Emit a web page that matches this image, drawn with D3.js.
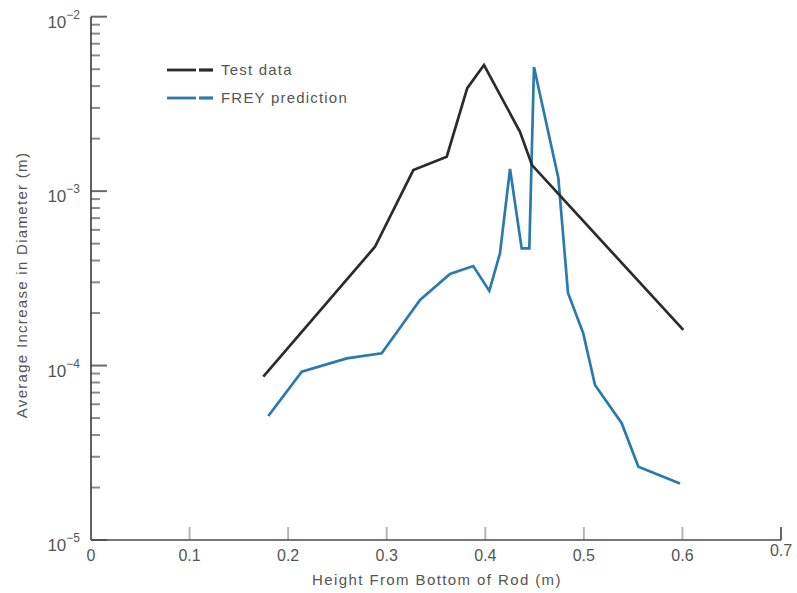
<!DOCTYPE html>
<html>
<head>
<meta charset="utf-8">
<script src="https://cdn.jsdelivr.net/npm/d3@7/dist/d3.min.js"></script>
<style>
  html, body { margin: 0; padding: 0; background: #fff; }
  svg { display: block; font-family: "Liberation Sans", Arial, sans-serif; }
</style>
</head>
<body>
<svg id="chart" width="797" height="593"></svg>
<script>
// Measured growth in rod diameter vs. height, and the FREY model prediction
const testHeight = [0.1748, 0.2881, 0.327, 0.3609, 0.3817, 0.3987, 0.4352, 0.4474, 0.6009];
const testValue  = [8.63e-5, 4.80e-4, 1.32e-3, 1.576e-3, 3.89e-3, 5.28e-3, 2.19e-3, 1.41e-3, 1.60e-4];

const freyHeight = [0.1799, 0.2138, 0.2594, 0.2949, 0.3338, 0.3642, 0.3878, 0.4041, 0.4149, 0.4251,
                    0.4369, 0.4447, 0.4494, 0.4741, 0.4839, 0.4994, 0.5113, 0.5384, 0.5553, 0.5975];
const freyValue  = [5.14e-5, 9.23e-5, 1.10e-4, 1.175e-4, 2.38e-4, 3.35e-4, 3.72e-4, 2.68e-4, 4.40e-4, 1.34e-3,
                    4.70e-4, 4.70e-4, 5.15e-3, 1.19e-3, 2.61e-4, 1.53e-4, 7.74e-5, 4.67e-5, 2.63e-5, 2.11e-5];

const xTicks = [0, 0.1, 0.2, 0.3, 0.4, 0.5, 0.6, 0.7];
const xTickLabels = ["0", "0.1", "0.2", "0.3", "0.4", "0.5", "0.6", "0.7"];
const yDecades = [1e-5, 1e-4, 1e-3, 1e-2];
const yExponents = ["−5", "−4", "−3", "−2"];

const seriesNames = ["Test data", "FREY prediction"];
const seriesColors = ["#2b2b2b", "#2a7aad"];

const svg = d3.select("#chart");
const textColor = "#555";

const x = d3.scaleLinear().domain([0, 0.7]).range([91, 781]);
const y = d3.scaleLog().domain([1e-5, 1e-2]).range([540, 16.7]);

// minor tick positions: 2..9 within each decade
const minorTicks = [];
for (let d = 0; d < yDecades.length - 1; d++) {
  for (let k = 2; k <= 9; k++) minorTicks.push(yDecades[d] * k);
}

const axes = svg.append("g");

// y axis minor ticks
axes.selectAll("line.ymin").data(minorTicks).join("line")
  .attr("class", "ymin")
  .attr("x1", x(0)).attr("x2", x(0) + 9)
  .attr("y1", d => y(d)).attr("y2", d => y(d))
  .attr("stroke", "#8a8a8a").attr("stroke-width", 2);

// y axis major ticks
axes.selectAll("line.ymaj").data(yDecades).join("line")
  .attr("class", "ymaj")
  .attr("x1", x(0)).attr("x2", x(0) + 16)
  .attr("y1", d => y(d)).attr("y2", d => y(d))
  .attr("stroke", "#6a6a6a").attr("stroke-width", 2);

// x axis ticks (upward)
axes.selectAll("line.xt").data(xTicks.slice(1)).join("line")
  .attr("class", "xt")
  .attr("x1", d => x(d)).attr("x2", d => x(d))
  .attr("y1", y(1e-5)).attr("y2", y(1e-5) - 13)
  .attr("stroke", (d, i) => i === xTicks.length - 2 ? "#666" : "#b5b5b5")
  .attr("stroke-width", 2);

// axis lines
axes.append("line")
  .attr("x1", x(0)).attr("x2", x(0))
  .attr("y1", y(1e-2)).attr("y2", y(1e-5))
  .attr("stroke", "#3a3a3a").attr("stroke-width", 1.6);
axes.append("line")
  .attr("x1", x(0)).attr("x2", x(0.7))
  .attr("y1", y(1e-5)).attr("y2", y(1e-5))
  .attr("stroke", "#4a4a4a").attr("stroke-width", 1.6);

// y tick labels as 10^n
const yl = axes.selectAll("text.yl").data(yDecades).join("text")
  .attr("class", "yl")
  .attr("text-anchor", "end")
  .attr("x", 80)
  .attr("y", d => y(d) + 11)
  .attr("fill", textColor)
  .style("font-size", "17px");
yl.append("tspan").text("10");
yl.append("tspan")
  .attr("dy", -9)
  .style("font-size", "12px")
  .text((d, i) => yExponents[i]);

// x tick labels
axes.selectAll("text.xl").data(xTicks).join("text")
  .attr("class", "xl")
  .attr("text-anchor", "middle")
  .attr("x", d => x(d))
  .attr("y", (d, i) => i === xTicks.length - 1 ? 556 : 561)
  .attr("fill", textColor)
  .style("font-size", "16px")
  .text((d, i) => xTickLabels[i]);

// axis titles
svg.append("text")
  .attr("x", 437).attr("y", 585)
  .attr("text-anchor", "middle")
  .attr("fill", textColor)
  .style("font-size", "15px")
  .style("letter-spacing", "1.4px")
  .text("Height From Bottom of Rod (m)");

svg.append("text")
  .attr("transform", "translate(27,285) rotate(-90)")
  .attr("text-anchor", "middle")
  .attr("fill", textColor)
  .style("font-size", "15px")
  .style("letter-spacing", "1.3px")
  .text("Average Increase in Diameter (m)");

// data lines
const line = d3.line().x(d => x(d[0])).y(d => y(d[1]));
const testPts = testHeight.map((h, i) => [h, testValue[i]]);
const freyPts = freyHeight.map((h, i) => [h, freyValue[i]]);

svg.append("path").datum(freyPts)
  .attr("d", line)
  .attr("fill", "none")
  .attr("stroke", seriesColors[1])
  .attr("stroke-width", 2.7)
  .attr("stroke-linejoin", "miter");

svg.append("path").datum(testPts)
  .attr("d", line)
  .attr("fill", "none")
  .attr("stroke", seriesColors[0])
  .attr("stroke-width", 2.7)
  .attr("stroke-linejoin", "miter");

// legend
const legend = svg.append("g");
const legendRows = [70, 98];
seriesNames.forEach((name, i) => {
  const ly = legendRows[i];
  legend.append("line")
    .attr("x1", 167).attr("x2", 196).attr("y1", ly).attr("y2", ly)
    .attr("stroke", seriesColors[i]).attr("stroke-width", 2.8);
  legend.append("line")
    .attr("x1", 199).attr("x2", 213).attr("y1", ly).attr("y2", ly)
    .attr("stroke", seriesColors[i]).attr("stroke-width", 3.2);
  legend.append("text")
    .attr("x", 221).attr("y", ly + 5)
    .attr("fill", textColor)
    .style("font-size", "15px")
    .style("letter-spacing", "1.2px")
    .text(name);
});
</script>
</body>
</html>
